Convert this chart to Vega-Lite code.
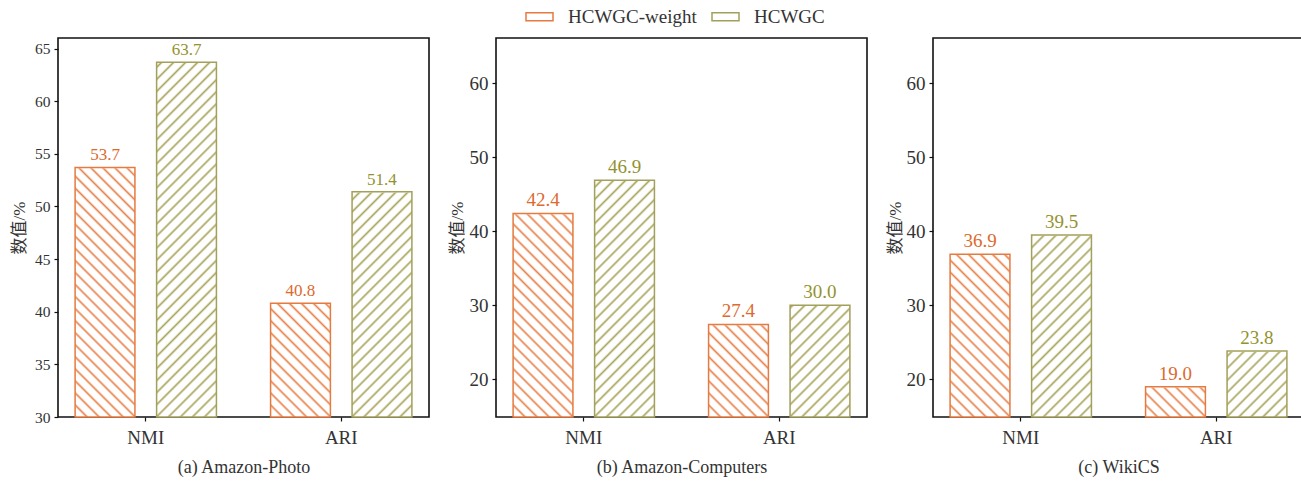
{
  "$schema": "https://vega.github.io/schema/vega-lite/v6.json",
  "background": "white",
  "padding": {"left": 9, "top": 1, "right": 0, "bottom": 4},
  "datasets": {
    "scores": [
      {"panel": "a", "metric": "NMI", "series": "HCWGC-weight", "value": 53.7},
      {"panel": "a", "metric": "NMI", "series": "HCWGC", "value": 63.7},
      {"panel": "a", "metric": "ARI", "series": "HCWGC-weight", "value": 40.8},
      {"panel": "a", "metric": "ARI", "series": "HCWGC", "value": 51.4},
      {"panel": "b", "metric": "NMI", "series": "HCWGC-weight", "value": 42.4},
      {"panel": "b", "metric": "NMI", "series": "HCWGC", "value": 46.9},
      {"panel": "b", "metric": "ARI", "series": "HCWGC-weight", "value": 27.4},
      {"panel": "b", "metric": "ARI", "series": "HCWGC", "value": 30.0},
      {"panel": "c", "metric": "NMI", "series": "HCWGC-weight", "value": 36.9},
      {"panel": "c", "metric": "NMI", "series": "HCWGC", "value": 39.5},
      {"panel": "c", "metric": "ARI", "series": "HCWGC-weight", "value": 19.0},
      {"panel": "c", "metric": "ARI", "series": "HCWGC", "value": 23.8}
    ]
  },
  "data": {"name": "scores"},
  "spacing": 17,
  "hconcat": [
    {
      "width": 371, "height": 379,
      "transform": [{"filter": "datum.panel === 'a'"}],
      "encoding": {
        "x": {"field": "metric", "type": "nominal", "sort": ["NMI", "ARI"], "scale": {"paddingInner": 0.277, "paddingOuter": 0.0875},
          "axis": {"title": "(a) Amazon-Photo", "labelAngle": 0, "labelFontSize": 19, "labelPadding": 7, "titleFontSize": 18, "titlePadding": 11}},
        "xOffset": {"field": "series", "type": "nominal", "scale": {"domain": ["HCWGC-weight", "HCWGC"], "paddingInner": 0.266, "paddingOuter": 0}}
      },
      "layer": [
        {"transform": [{"filter": "datum.series === 'HCWGC-weight'"}], "mark": {"type": "bar", "style": "hatchO"},
          "encoding": {"y": {"datum": 30, "type": "quantitative", "scale": {"domain": [30, 66], "nice": false, "zero": false},
            "axis": {"title": "数值/%", "values": [30, 35, 40, 45, 50, 55, 60, 65], "labelFontSize": 15.5, "labelPadding": 4, "titleFontSize": 17, "titlePadding": 6}},
            "y2": {"datum": 65.5}}},
        {"transform": [{"filter": "datum.series === 'HCWGC'"}], "mark": {"type": "bar", "style": "hatchG"},
          "encoding": {"y": {"datum": 30, "type": "quantitative"}, "y2": {"datum": 65.5}}},
        {"mark": {"type": "bar", "fill": "white", "stroke": "white", "strokeWidth": 1.5},
          "encoding": {"y": {"field": "value", "type": "quantitative", "stack": null}, "y2": {"datum": 65.5}}},
        {"mark": {"type": "bar", "fill": "transparent", "strokeWidth": 1.5},
          "encoding": {"y": {"field": "value", "type": "quantitative", "stack": null}, "y2": {"datum": 30},
            "stroke": {"field": "series", "type": "nominal", "scale": {"domain": ["HCWGC-weight", "HCWGC"], "range": ["#E57B40", "#A2A05A"]}, "legend": null}}},
        {"mark": {"type": "text", "baseline": "alphabetic", "dy": -7, "fontSize": 17, "font": "Liberation Serif"},
          "encoding": {"y": {"field": "value", "type": "quantitative", "stack": null}, "text": {"field": "value", "type": "quantitative", "format": ".1f"},
            "color": {"condition": {"test": "datum.series === 'HCWGC'", "value": "#94922F"}, "value": "#DD6A2E"}}}
      ]
    },
    {
      "width": 371, "height": 379,
      "transform": [{"filter": "datum.panel === 'b'"}],
      "encoding": {
        "x": {"field": "metric", "type": "nominal", "sort": ["NMI", "ARI"], "scale": {"paddingInner": 0.277, "paddingOuter": 0.0875},
          "axis": {"title": "(b) Amazon-Computers", "labelAngle": 0, "labelFontSize": 19, "labelPadding": 7, "titleFontSize": 18, "titlePadding": 11}},
        "xOffset": {"field": "series", "type": "nominal", "scale": {"domain": ["HCWGC-weight", "HCWGC"], "paddingInner": 0.266, "paddingOuter": 0}}
      },
      "layer": [
        {"transform": [{"filter": "datum.series === 'HCWGC-weight'"}], "mark": {"type": "bar", "style": "hatchO"},
          "encoding": {"y": {"datum": 14.9, "type": "quantitative", "scale": {"domain": [14.9, 66.1], "nice": false, "zero": false},
            "axis": {"title": "数值/%", "values": [20, 30, 40, 50, 60], "labelFontSize": 19, "labelPadding": 4, "titleFontSize": 17, "titlePadding": 3}},
            "y2": {"datum": 65.5}}},
        {"transform": [{"filter": "datum.series === 'HCWGC'"}], "mark": {"type": "bar", "style": "hatchG"},
          "encoding": {"y": {"datum": 14.9, "type": "quantitative"}, "y2": {"datum": 65.5}}},
        {"mark": {"type": "bar", "fill": "white", "stroke": "white", "strokeWidth": 1.5},
          "encoding": {"y": {"field": "value", "type": "quantitative", "stack": null}, "y2": {"datum": 65.5}}},
        {"mark": {"type": "bar", "fill": "transparent", "strokeWidth": 1.5},
          "encoding": {"y": {"field": "value", "type": "quantitative", "stack": null}, "y2": {"datum": 14.9},
            "stroke": {"field": "series", "type": "nominal", "scale": {"domain": ["HCWGC-weight", "HCWGC"], "range": ["#E57B40", "#A2A05A"]},
              "legend": {"orient": "none", "legendX": 29, "legendY": -36, "direction": "horizontal", "title": null,
                "symbolType": "M-1,-0.3H1V0.3H-1Z", "symbolSize": 729, "symbolStrokeWidth": 1.5,
                "labelFont": "Liberation Serif", "labelFontSize": 19, "labelColor": "#333", "labelOffset": 14, "columnPadding": 12,
                "encode": {"symbols": {"fill": {
                  "condition": {"test": "datum.value === 'HCWGC'", "value": {"gradient": "linear", "x1": 0, "y1": 0, "x2": 1.174, "y2": 0.348, "stops": [
                    {"offset": 0, "color": "#A9A65E"}, {"offset": 0.08, "color": "#fff"}, {"offset": 0.17, "color": "#fff"},
                    {"offset": 0.25, "color": "#A9A65E"}, {"offset": 0.33, "color": "#fff"}, {"offset": 0.42, "color": "#fff"},
                    {"offset": 0.5, "color": "#A9A65E"}, {"offset": 0.58, "color": "#fff"}, {"offset": 0.67, "color": "#fff"},
                    {"offset": 0.75, "color": "#A9A65E"}, {"offset": 0.83, "color": "#fff"}, {"offset": 0.92, "color": "#fff"},
                    {"offset": 1, "color": "#A9A65E"}]}},
                  "value": {"gradient": "linear", "x1": 0, "y1": 1, "x2": 1.174, "y2": 0.652, "stops": [
                    {"offset": 0, "color": "#E8844E"}, {"offset": 0.08, "color": "#fff"}, {"offset": 0.17, "color": "#fff"},
                    {"offset": 0.25, "color": "#E8844E"}, {"offset": 0.33, "color": "#fff"}, {"offset": 0.42, "color": "#fff"},
                    {"offset": 0.5, "color": "#E8844E"}, {"offset": 0.58, "color": "#fff"}, {"offset": 0.67, "color": "#fff"},
                    {"offset": 0.75, "color": "#E8844E"}, {"offset": 0.83, "color": "#fff"}, {"offset": 0.92, "color": "#fff"},
                    {"offset": 1, "color": "#E8844E"}]}
                }}}}}}},
        {"mark": {"type": "text", "baseline": "alphabetic", "dy": -7, "fontSize": 19, "font": "Liberation Serif"},
          "encoding": {"y": {"field": "value", "type": "quantitative", "stack": null}, "text": {"field": "value", "type": "quantitative", "format": ".1f"},
            "color": {"condition": {"test": "datum.series === 'HCWGC'", "value": "#94922F"}, "value": "#DD6A2E"}}}
      ]
    },
    {
      "width": 371, "height": 379,
      "transform": [{"filter": "datum.panel === 'c'"}],
      "encoding": {
        "x": {"field": "metric", "type": "nominal", "sort": ["NMI", "ARI"], "scale": {"paddingInner": 0.277, "paddingOuter": 0.0875},
          "axis": {"title": "(c) WikiCS", "labelAngle": 0, "labelFontSize": 19, "labelPadding": 7, "titleFontSize": 18, "titlePadding": 11}},
        "xOffset": {"field": "series", "type": "nominal", "scale": {"domain": ["HCWGC-weight", "HCWGC"], "paddingInner": 0.266, "paddingOuter": 0}}
      },
      "layer": [
        {"transform": [{"filter": "datum.series === 'HCWGC-weight'"}], "mark": {"type": "bar", "style": "hatchO"},
          "encoding": {"y": {"datum": 14.9, "type": "quantitative", "scale": {"domain": [14.9, 66.1], "nice": false, "zero": false},
            "axis": {"title": "数值/%", "values": [20, 30, 40, 50, 60], "labelFontSize": 19, "labelPadding": 4, "titleFontSize": 17, "titlePadding": 2}},
            "y2": {"datum": 65.5}}},
        {"transform": [{"filter": "datum.series === 'HCWGC'"}], "mark": {"type": "bar", "style": "hatchG"},
          "encoding": {"y": {"datum": 14.9, "type": "quantitative"}, "y2": {"datum": 65.5}}},
        {"mark": {"type": "bar", "fill": "white", "stroke": "white", "strokeWidth": 1.5},
          "encoding": {"y": {"field": "value", "type": "quantitative", "stack": null}, "y2": {"datum": 65.5}}},
        {"mark": {"type": "bar", "fill": "transparent", "strokeWidth": 1.5},
          "encoding": {"y": {"field": "value", "type": "quantitative", "stack": null}, "y2": {"datum": 14.9},
            "stroke": {"field": "series", "type": "nominal", "scale": {"domain": ["HCWGC-weight", "HCWGC"], "range": ["#E57B40", "#A2A05A"]}, "legend": null}}},
        {"mark": {"type": "text", "baseline": "alphabetic", "dy": -7, "fontSize": 19, "font": "Liberation Serif"},
          "encoding": {"y": {"field": "value", "type": "quantitative", "stack": null}, "text": {"field": "value", "type": "quantitative", "format": ".1f"},
            "color": {"condition": {"test": "datum.series === 'HCWGC'", "value": "#94922F"}, "value": "#DD6A2E"}}}
      ]
    }
  ],
  "resolve": {
    "scale": {"x": "independent", "y": "independent", "xOffset": "independent", "stroke": "independent"},
    "legend": {"stroke": "independent"}
  },
  "config": {
    "view": {"stroke": "#111", "strokeWidth": 1.6},
    "font": "Liberation Serif",
    "axis": {"domain": false, "grid": false, "ticks": true, "tickColor": "#111", "tickWidth": 1.2, "tickSize": 4,
      "labelFont": "Liberation Serif", "labelColor": "#333",
      "titleFont": "Liberation Serif, Noto Sans CJK SC", "titleColor": "#333", "titleFontWeight": "normal"},
    "style": {
      "hatchO": {"color": {"gradient": "linear", "x1": 0, "y1": 1, "x2": 0.1815, "y2": -0.1313, "stops": [
        {"offset": 0, "color": "#E8844E"}, {"offset": 0.0056, "color": "#fff"}, {"offset": 0.0222, "color": "#fff"},
        {"offset": 0.0278, "color": "#E8844E"}, {"offset": 0.0333, "color": "#fff"}, {"offset": 0.05, "color": "#fff"},
        {"offset": 0.0556, "color": "#E8844E"}, {"offset": 0.0611, "color": "#fff"}, {"offset": 0.0778, "color": "#fff"},
        {"offset": 0.0833, "color": "#E8844E"}, {"offset": 0.0889, "color": "#fff"}, {"offset": 0.1056, "color": "#fff"},
        {"offset": 0.1111, "color": "#E8844E"}, {"offset": 0.1167, "color": "#fff"}, {"offset": 0.1333, "color": "#fff"},
        {"offset": 0.1389, "color": "#E8844E"}, {"offset": 0.1444, "color": "#fff"}, {"offset": 0.1611, "color": "#fff"},
        {"offset": 0.1667, "color": "#E8844E"}, {"offset": 0.1722, "color": "#fff"}, {"offset": 0.1889, "color": "#fff"},
        {"offset": 0.1944, "color": "#E8844E"}, {"offset": 0.2, "color": "#fff"}, {"offset": 0.2167, "color": "#fff"},
        {"offset": 0.2222, "color": "#E8844E"}, {"offset": 0.2278, "color": "#fff"}, {"offset": 0.2444, "color": "#fff"},
        {"offset": 0.25, "color": "#E8844E"}, {"offset": 0.2556, "color": "#fff"}, {"offset": 0.2722, "color": "#fff"},
        {"offset": 0.2778, "color": "#E8844E"}, {"offset": 0.2833, "color": "#fff"}, {"offset": 0.3, "color": "#fff"},
        {"offset": 0.3056, "color": "#E8844E"}, {"offset": 0.3111, "color": "#fff"}, {"offset": 0.3278, "color": "#fff"},
        {"offset": 0.3333, "color": "#E8844E"}, {"offset": 0.3389, "color": "#fff"}, {"offset": 0.3556, "color": "#fff"},
        {"offset": 0.3611, "color": "#E8844E"}, {"offset": 0.3667, "color": "#fff"}, {"offset": 0.3833, "color": "#fff"},
        {"offset": 0.3889, "color": "#E8844E"}, {"offset": 0.3944, "color": "#fff"}, {"offset": 0.4111, "color": "#fff"},
        {"offset": 0.4167, "color": "#E8844E"}, {"offset": 0.4222, "color": "#fff"}, {"offset": 0.4389, "color": "#fff"},
        {"offset": 0.4444, "color": "#E8844E"}, {"offset": 0.45, "color": "#fff"}, {"offset": 0.4667, "color": "#fff"},
        {"offset": 0.4722, "color": "#E8844E"}, {"offset": 0.4778, "color": "#fff"}, {"offset": 0.4944, "color": "#fff"},
        {"offset": 0.5, "color": "#E8844E"}, {"offset": 0.5056, "color": "#fff"}, {"offset": 0.5222, "color": "#fff"},
        {"offset": 0.5278, "color": "#E8844E"}, {"offset": 0.5333, "color": "#fff"}, {"offset": 0.55, "color": "#fff"},
        {"offset": 0.5556, "color": "#E8844E"}, {"offset": 0.5611, "color": "#fff"}, {"offset": 0.5778, "color": "#fff"},
        {"offset": 0.5833, "color": "#E8844E"}, {"offset": 0.5889, "color": "#fff"}, {"offset": 0.6056, "color": "#fff"},
        {"offset": 0.6111, "color": "#E8844E"}, {"offset": 0.6167, "color": "#fff"}, {"offset": 0.6333, "color": "#fff"},
        {"offset": 0.6389, "color": "#E8844E"}, {"offset": 0.6444, "color": "#fff"}, {"offset": 0.6611, "color": "#fff"},
        {"offset": 0.6667, "color": "#E8844E"}, {"offset": 0.6722, "color": "#fff"}, {"offset": 0.6889, "color": "#fff"},
        {"offset": 0.6944, "color": "#E8844E"}, {"offset": 0.7, "color": "#fff"}, {"offset": 0.7167, "color": "#fff"},
        {"offset": 0.7222, "color": "#E8844E"}, {"offset": 0.7278, "color": "#fff"}, {"offset": 0.7444, "color": "#fff"},
        {"offset": 0.75, "color": "#E8844E"}, {"offset": 0.7556, "color": "#fff"}, {"offset": 0.7722, "color": "#fff"},
        {"offset": 0.7778, "color": "#E8844E"}, {"offset": 0.7833, "color": "#fff"}, {"offset": 0.8, "color": "#fff"},
        {"offset": 0.8056, "color": "#E8844E"}, {"offset": 0.8111, "color": "#fff"}, {"offset": 0.8278, "color": "#fff"},
        {"offset": 0.8333, "color": "#E8844E"}, {"offset": 0.8389, "color": "#fff"}, {"offset": 0.8556, "color": "#fff"},
        {"offset": 0.8611, "color": "#E8844E"}, {"offset": 0.8667, "color": "#fff"}, {"offset": 0.8833, "color": "#fff"},
        {"offset": 0.8889, "color": "#E8844E"}, {"offset": 0.8944, "color": "#fff"}, {"offset": 0.9111, "color": "#fff"},
        {"offset": 0.9167, "color": "#E8844E"}, {"offset": 0.9222, "color": "#fff"}, {"offset": 0.9389, "color": "#fff"},
        {"offset": 0.9444, "color": "#E8844E"}, {"offset": 0.95, "color": "#fff"}, {"offset": 0.9667, "color": "#fff"},
        {"offset": 0.9722, "color": "#E8844E"}, {"offset": 0.9778, "color": "#fff"}, {"offset": 0.9944, "color": "#fff"},
        {"offset": 1, "color": "#E8844E"}]}},
      "hatchG": {"color": {"gradient": "linear", "x1": 0, "y1": 0, "x2": 0.1815, "y2": 1.1313, "stops": [
        {"offset": 0, "color": "#A9A65E"}, {"offset": 0.0056, "color": "#fff"}, {"offset": 0.0222, "color": "#fff"},
        {"offset": 0.0278, "color": "#A9A65E"}, {"offset": 0.0333, "color": "#fff"}, {"offset": 0.05, "color": "#fff"},
        {"offset": 0.0556, "color": "#A9A65E"}, {"offset": 0.0611, "color": "#fff"}, {"offset": 0.0778, "color": "#fff"},
        {"offset": 0.0833, "color": "#A9A65E"}, {"offset": 0.0889, "color": "#fff"}, {"offset": 0.1056, "color": "#fff"},
        {"offset": 0.1111, "color": "#A9A65E"}, {"offset": 0.1167, "color": "#fff"}, {"offset": 0.1333, "color": "#fff"},
        {"offset": 0.1389, "color": "#A9A65E"}, {"offset": 0.1444, "color": "#fff"}, {"offset": 0.1611, "color": "#fff"},
        {"offset": 0.1667, "color": "#A9A65E"}, {"offset": 0.1722, "color": "#fff"}, {"offset": 0.1889, "color": "#fff"},
        {"offset": 0.1944, "color": "#A9A65E"}, {"offset": 0.2, "color": "#fff"}, {"offset": 0.2167, "color": "#fff"},
        {"offset": 0.2222, "color": "#A9A65E"}, {"offset": 0.2278, "color": "#fff"}, {"offset": 0.2444, "color": "#fff"},
        {"offset": 0.25, "color": "#A9A65E"}, {"offset": 0.2556, "color": "#fff"}, {"offset": 0.2722, "color": "#fff"},
        {"offset": 0.2778, "color": "#A9A65E"}, {"offset": 0.2833, "color": "#fff"}, {"offset": 0.3, "color": "#fff"},
        {"offset": 0.3056, "color": "#A9A65E"}, {"offset": 0.3111, "color": "#fff"}, {"offset": 0.3278, "color": "#fff"},
        {"offset": 0.3333, "color": "#A9A65E"}, {"offset": 0.3389, "color": "#fff"}, {"offset": 0.3556, "color": "#fff"},
        {"offset": 0.3611, "color": "#A9A65E"}, {"offset": 0.3667, "color": "#fff"}, {"offset": 0.3833, "color": "#fff"},
        {"offset": 0.3889, "color": "#A9A65E"}, {"offset": 0.3944, "color": "#fff"}, {"offset": 0.4111, "color": "#fff"},
        {"offset": 0.4167, "color": "#A9A65E"}, {"offset": 0.4222, "color": "#fff"}, {"offset": 0.4389, "color": "#fff"},
        {"offset": 0.4444, "color": "#A9A65E"}, {"offset": 0.45, "color": "#fff"}, {"offset": 0.4667, "color": "#fff"},
        {"offset": 0.4722, "color": "#A9A65E"}, {"offset": 0.4778, "color": "#fff"}, {"offset": 0.4944, "color": "#fff"},
        {"offset": 0.5, "color": "#A9A65E"}, {"offset": 0.5056, "color": "#fff"}, {"offset": 0.5222, "color": "#fff"},
        {"offset": 0.5278, "color": "#A9A65E"}, {"offset": 0.5333, "color": "#fff"}, {"offset": 0.55, "color": "#fff"},
        {"offset": 0.5556, "color": "#A9A65E"}, {"offset": 0.5611, "color": "#fff"}, {"offset": 0.5778, "color": "#fff"},
        {"offset": 0.5833, "color": "#A9A65E"}, {"offset": 0.5889, "color": "#fff"}, {"offset": 0.6056, "color": "#fff"},
        {"offset": 0.6111, "color": "#A9A65E"}, {"offset": 0.6167, "color": "#fff"}, {"offset": 0.6333, "color": "#fff"},
        {"offset": 0.6389, "color": "#A9A65E"}, {"offset": 0.6444, "color": "#fff"}, {"offset": 0.6611, "color": "#fff"},
        {"offset": 0.6667, "color": "#A9A65E"}, {"offset": 0.6722, "color": "#fff"}, {"offset": 0.6889, "color": "#fff"},
        {"offset": 0.6944, "color": "#A9A65E"}, {"offset": 0.7, "color": "#fff"}, {"offset": 0.7167, "color": "#fff"},
        {"offset": 0.7222, "color": "#A9A65E"}, {"offset": 0.7278, "color": "#fff"}, {"offset": 0.7444, "color": "#fff"},
        {"offset": 0.75, "color": "#A9A65E"}, {"offset": 0.7556, "color": "#fff"}, {"offset": 0.7722, "color": "#fff"},
        {"offset": 0.7778, "color": "#A9A65E"}, {"offset": 0.7833, "color": "#fff"}, {"offset": 0.8, "color": "#fff"},
        {"offset": 0.8056, "color": "#A9A65E"}, {"offset": 0.8111, "color": "#fff"}, {"offset": 0.8278, "color": "#fff"},
        {"offset": 0.8333, "color": "#A9A65E"}, {"offset": 0.8389, "color": "#fff"}, {"offset": 0.8556, "color": "#fff"},
        {"offset": 0.8611, "color": "#A9A65E"}, {"offset": 0.8667, "color": "#fff"}, {"offset": 0.8833, "color": "#fff"},
        {"offset": 0.8889, "color": "#A9A65E"}, {"offset": 0.8944, "color": "#fff"}, {"offset": 0.9111, "color": "#fff"},
        {"offset": 0.9167, "color": "#A9A65E"}, {"offset": 0.9222, "color": "#fff"}, {"offset": 0.9389, "color": "#fff"},
        {"offset": 0.9444, "color": "#A9A65E"}, {"offset": 0.95, "color": "#fff"}, {"offset": 0.9667, "color": "#fff"},
        {"offset": 0.9722, "color": "#A9A65E"}, {"offset": 0.9778, "color": "#fff"}, {"offset": 0.9944, "color": "#fff"},
        {"offset": 1, "color": "#A9A65E"}]}}
    }
  }
}
